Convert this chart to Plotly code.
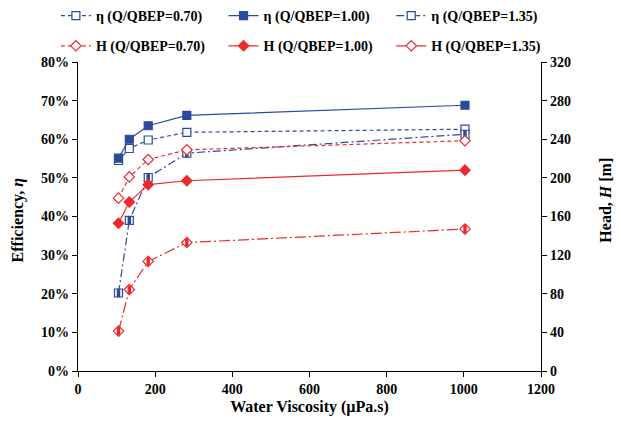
import plotly.graph_objects as go

# Water viscosity (µPa.s)
viscosity = [105, 133, 182, 282, 1003]

# Efficiency (%) at three flow ratios
eta_070 = [54.5, 57.6, 59.8, 61.8, 62.6]
eta_100 = [55.1, 60.0, 63.5, 66.2, 68.8]
eta_135 = [20.2, 39.0, 50.1, 56.4, 61.3]

# Head (m) at three flow ratios
head_070 = [179, 201, 219, 229, 238.5]
head_100 = [153, 175, 193, 197, 208]
head_135 = [41.3, 84.3, 113.5, 133, 147]

eta_ticks = [0, 10, 20, 30, 40, 50, 60, 70, 80]
head_ticks = [0, 40, 80, 120, 160, 200, 240, 280, 320]
x_ticks = [0, 200, 400, 600, 800, 1000, 1200]

BLUE = "#2C4A9C"
RED = "#EC2A2E"
FONT = "Liberation Serif, Times New Roman, Times, serif"

fig = go.Figure()


def add_series(x, y, name, color, dash, symbol, axis, fill, legend):
    fig.add_trace(go.Scatter(
        x=x, y=y, name=name, mode="lines+markers", yaxis=axis,
        legend=legend, legendgroup=name,
        line=dict(color=color, width=1.2, dash=dash),
        marker=dict(symbol=symbol, size=8, color=fill,
                    line=dict(color=color, width=1.2)),
    ))


SHORT_DASH = "4px,3px"
DASH_DOT = "8px,3px,2px,3px"
LONG_DASH_DOT = "11px,3px,2px,3px"

add_series(viscosity, eta_070, "η (Q/QBEP=0.70)", BLUE, SHORT_DASH, "square", "y", "white", "legend")
add_series(viscosity, eta_100, "η (Q/QBEP=1.00)", BLUE, "solid", "square", "y", BLUE, "legend2")
add_series(viscosity, eta_135, "η (Q/QBEP=1.35)", BLUE, DASH_DOT, "square", "y", "white", "legend3")
add_series(viscosity, head_070, "H (Q/QBEP=0.70)", RED, SHORT_DASH, "diamond", "y2", "white", "legend")
add_series(viscosity, head_100, "H (Q/QBEP=1.00)", RED, "solid", "diamond", "y2", RED, "legend2")
add_series(viscosity, head_135, "H (Q/QBEP=1.35)", RED, LONG_DASH_DOT, "diamond", "y2", "white", "legend3")

# half-filled markers for the Q/QBEP=1.35 series
for y, color, axis in [(eta_135, BLUE, "y"), (head_135, RED, "y2")]:
    fig.add_trace(go.Scatter(
        x=viscosity, y=y, mode="markers", yaxis=axis, showlegend=False,
        hoverinfo="skip",
        marker=dict(symbol="line-ns", size=6, line=dict(color=color, width=3.5)),
    ))

tick_font = dict(family=FONT, size=14, color="black", weight="bold")
title_font = dict(family=FONT, size=16, color="black", weight="bold")
legend_font = dict(family=FONT, size=14, color="black", weight="bold")


def legend_box(x):
    return dict(
        orientation="v", xref="container", yref="container",
        x=x, y=1.0, xanchor="left", yanchor="top",
        font=legend_font, bgcolor="rgba(0,0,0,0)",
        itemwidth=30, tracegroupgap=9,
    )


fig.update_layout(
    width=621, height=422,
    margin=dict(l=78, r=80, t=62, b=51, autoexpand=False),
    paper_bgcolor="white", plot_bgcolor="white",
    font=dict(family=FONT, color="black"),
    showlegend=True,
    legend=legend_box(0.09),
    legend2=legend_box(0.36),
    legend3=legend_box(0.63),
    xaxis=dict(
        range=[0, 1200], tickvals=x_ticks, ticktext=[str(v) for v in x_ticks],
        showline=True, linecolor="black", linewidth=1.3,
        ticks="outside", ticklen=5, tickcolor="black",
        showgrid=False, zeroline=False, tickfont=tick_font,
        title=dict(text="Water Viscosity (µPa.s)", font=title_font, standoff=4),
    ),
    yaxis=dict(
        range=[0, 80], tickvals=eta_ticks, ticktext=[f"{v}%" for v in eta_ticks],
        showline=True, linecolor="black", linewidth=1.3,
        ticks="outside", ticklen=5, tickcolor="black",
        showgrid=False, zeroline=False, tickfont=tick_font,
    ),
    yaxis2=dict(
        range=[0, 320], tickvals=head_ticks, ticktext=[str(v) for v in head_ticks],
        overlaying="y", side="right",
        showline=True, linecolor="black", linewidth=1.3,
        ticks="outside", ticklen=5, tickcolor="black",
        showgrid=False, zeroline=False, tickfont=tick_font,
    ),
    annotations=[
        dict(text="Efficiency, <i>η</i>", xref="paper", yref="paper",
             x=-0.13, y=0.49, textangle=-90, showarrow=False,
             xanchor="center", yanchor="middle", font=title_font),
        dict(text="Head, <i>H</i> [m]", xref="paper", yref="paper",
             x=1.14, y=0.554, textangle=-90, showarrow=False,
             xanchor="center", yanchor="middle", font=title_font),
    ],
)

fig.write_html("out.html")
